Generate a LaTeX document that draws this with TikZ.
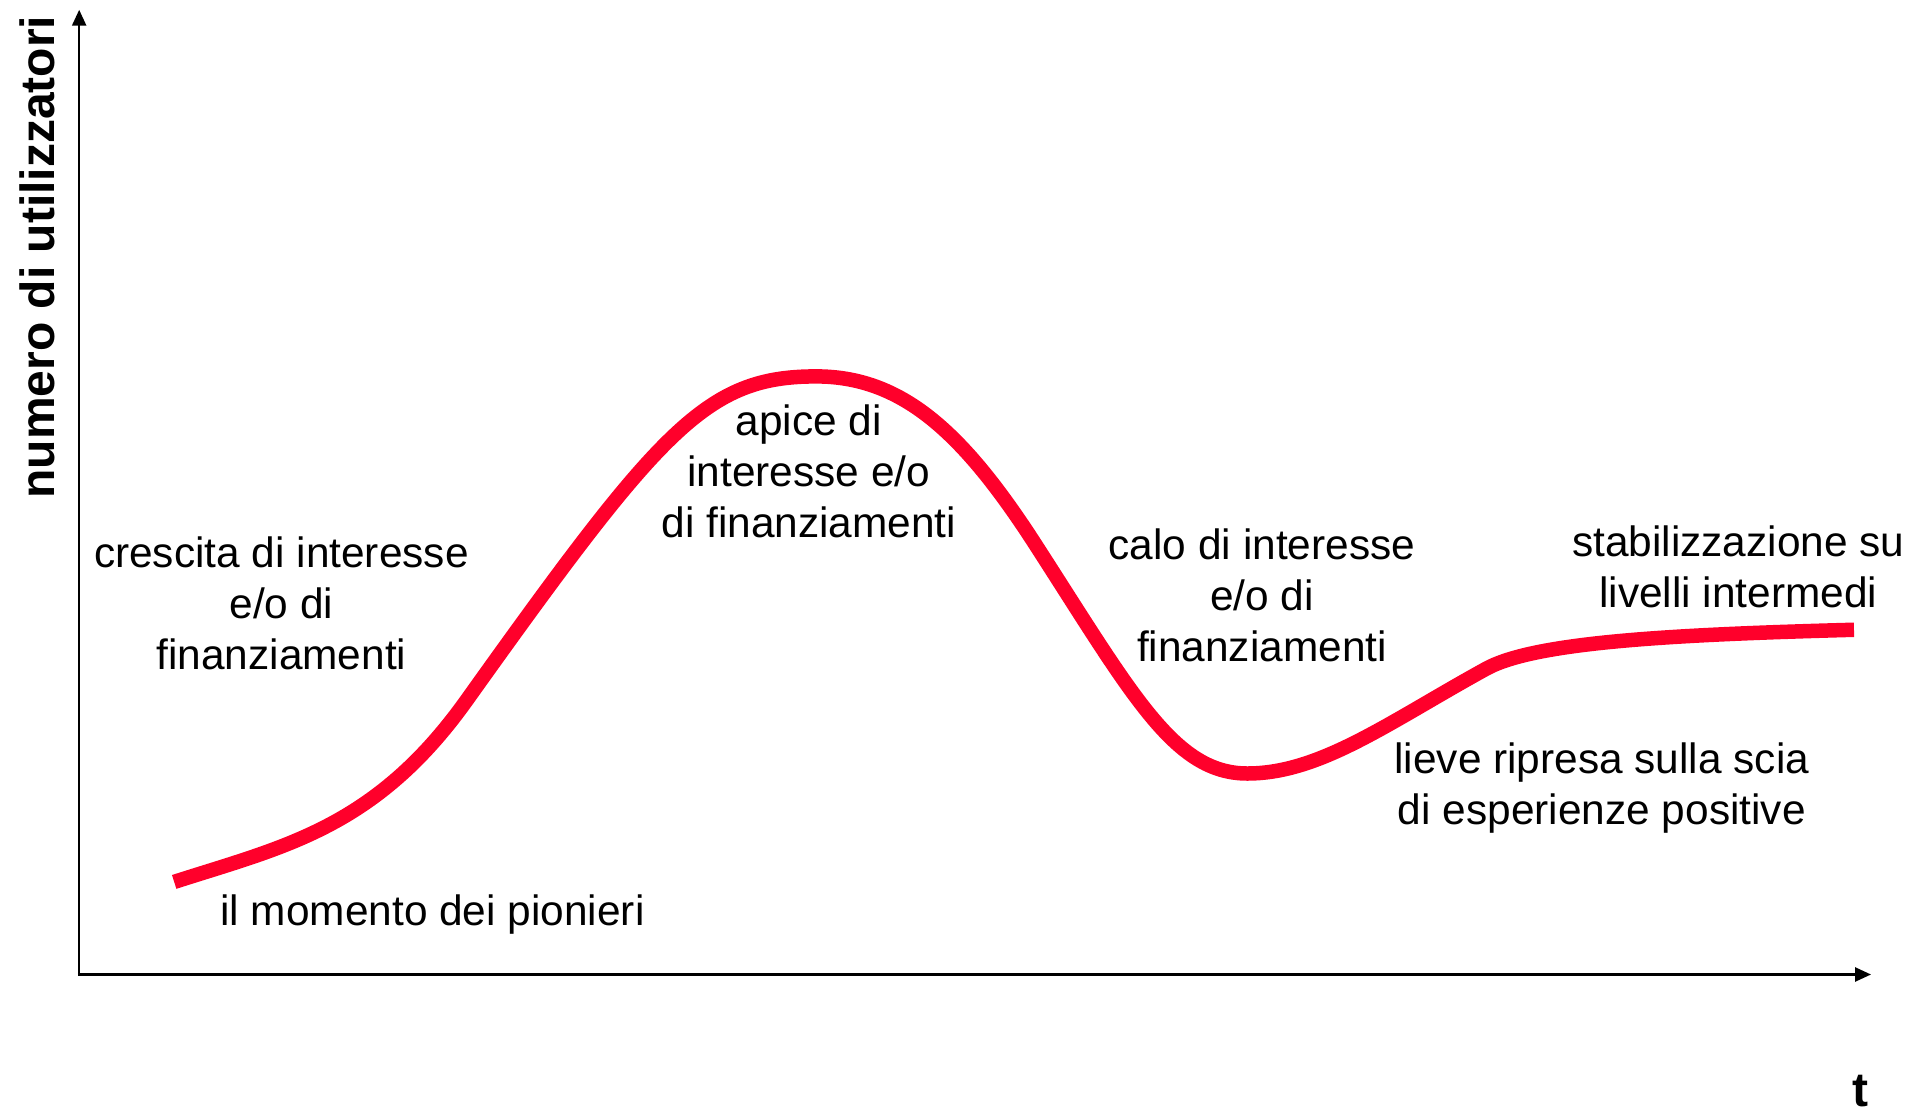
\documentclass[tikz,border=0pt]{standalone}
\usepackage{fontspec}
\setmainfont{Liberation Sans}
\usetikzlibrary{arrows.meta}
\definecolor{curvered}{RGB}{255,0,43}
\tikzset{
  axis/.style={line width=2.5pt,-{Triangle[length=16pt,width=14pt]}},
  lbl/.style={align=center,font=\fontsize{42.4}{51}\selectfont,inner sep=0pt},
  bigbold/.style={font=\fontsize{48}{56}\selectfont\bfseries,inner sep=0pt},
  hype/.style={line width=14.5pt,curvered}
}
\begin{document}
\begin{tikzpicture}[x=1.2181pt,y=-1.2181pt]
\useasboundingbox (0,0) rectangle (1568,914);
\coordinate (O) at (65,800);
\coordinate (Ytop) at (65,8);
\coordinate (Xend) at (1536,800);
\draw[axis] (O) -- (Ytop);
\draw[axis] ([xshift=-1.2pt]O) -- (Xend);
\node[bigbold,rotate=90] (ylab) at (31,211) {numero di utilizzatori};
\node[bigbold] (tlab) at (1527,896) {t};
\draw[hype] (143,724) .. controls (233,695) and (308,680) .. (383,575)
  .. controls (543,351) and (580,309) .. (670,309)
  .. controls (740,309) and (790,354) .. (850,447)
  .. controls (930,571) and (964,635) .. (1024,635)
  .. controls (1084,635) and (1140,593) .. (1220,549)
  .. controls (1260,527) and (1372,521) .. (1522,517);
\node[lbl] (t1) at (231,495) {crescita di interesse\\e/o di\\finanziamenti};
\node[lbl] (t2) at (355,751) {il momento dei pionieri};
\node[lbl] (t3) at (664,387) {apice di\\interesse e/o\\di finanziamenti};
\node[lbl] (t4) at (1036,489) {calo di interesse\\e/o di\\finanziamenti};
\node[lbl] (t5) at (1315,647) {lieve ripresa sulla scia\\di esperienze positive};
\node[lbl] (t6) at (1427,465) {stabilizzazione su\\livelli intermedi};
\end{tikzpicture}
\end{document}
